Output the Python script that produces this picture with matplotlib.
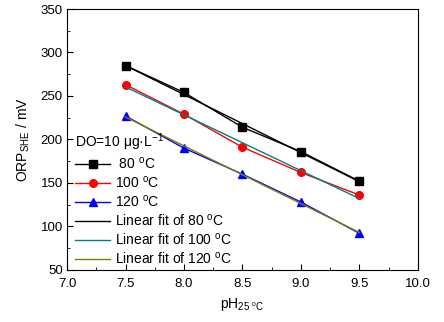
import matplotlib
matplotlib.use("Agg")
import matplotlib.pyplot as plt
import numpy as np
from matplotlib.ticker import MultipleLocator

plt.rcParams['font.family'] = ['Liberation Sans', 'DejaVu Sans']
plt.rcParams['mathtext.fontset'] = 'custom'
plt.rcParams['mathtext.rm'] = 'Liberation Sans'
plt.rcParams['mathtext.it'] = 'Liberation Sans:italic'

ph = [7.5, 8.0, 8.5, 9.0, 9.5]
orp_80 = [285, 254, 214, 186, 152]
orp_100 = [263, 229, 191, 162, 136]
orp_120 = [227, 190, 160, 128, 92]

fig = plt.figure(figsize=(4.44, 3.22), dpi=100)
ax = fig.add_axes([0.151, 0.162, 0.790, 0.810])

series = [
    (orp_80, 'black', 's', ' 80 $\\mathregular{^oC}$'),
    (orp_100, 'red', 'o', '100 $\\mathregular{^oC}$'),
    (orp_120, 'blue', '^', '120 $\\mathregular{^oC}$'),
]
for y, c, m, lab in series:
    ax.plot(ph, y, color=c, marker=m, markersize=5.5, lw=1, label=lab)

fit_colors = ['black', '#008080', '#808000']
fit_labels = ['Linear fit of 80 $\\mathregular{^oC}$',
              'Linear fit of 100 $\\mathregular{^oC}$',
              'Linear fit of 120 $\\mathregular{^oC}$']
x = np.array(ph)
for (y, _, _, _), c, lab in zip(series, fit_colors, fit_labels):
    k, b = np.polyfit(x, y, 1)
    ax.plot(x, k * x + b, color=c, lw=1, label=lab)

ax.set_xlim(7.0, 10.0)
ax.set_ylim(50, 350)
ax.set_xticks(np.arange(7.0, 10.01, 0.5))
ax.set_xticklabels(['7.0', '7.5', '8.0', '8.5', '9.0', '9.5', '10.0'])
ax.xaxis.set_minor_locator(MultipleLocator(0.25))
ax.yaxis.set_major_locator(MultipleLocator(50))
ax.yaxis.set_minor_locator(MultipleLocator(25))
ax.tick_params(which='both', direction='in', labelsize=9.5)
ax.tick_params(axis='x', pad=6)
ax.tick_params(axis='y', pad=3)
ax.tick_params(which='major', length=4)
ax.tick_params(which='minor', length=2)

ax.set_xlabel('pH$_{\\mathregular{25\\ ^oC}}$', fontsize=10, labelpad=4)
ax.set_ylabel('ORP$_{\\mathregular{SHE}}$ / mV', fontsize=10, labelpad=6)

leg = ax.legend(title='DO=10 μg·L$^{\\mathregular{-1}}$', loc='lower left',
                frameon=False, fontsize=10, title_fontsize=10,
                handlelength=2.5, handletextpad=0.35, labelspacing=0.22,
                borderaxespad=0.2, bbox_to_anchor=(0.0, -0.02))
leg._legend_box.align = 'left'
leg._legend_box.sep = 2

fig.savefig('out.png', dpi=100)
